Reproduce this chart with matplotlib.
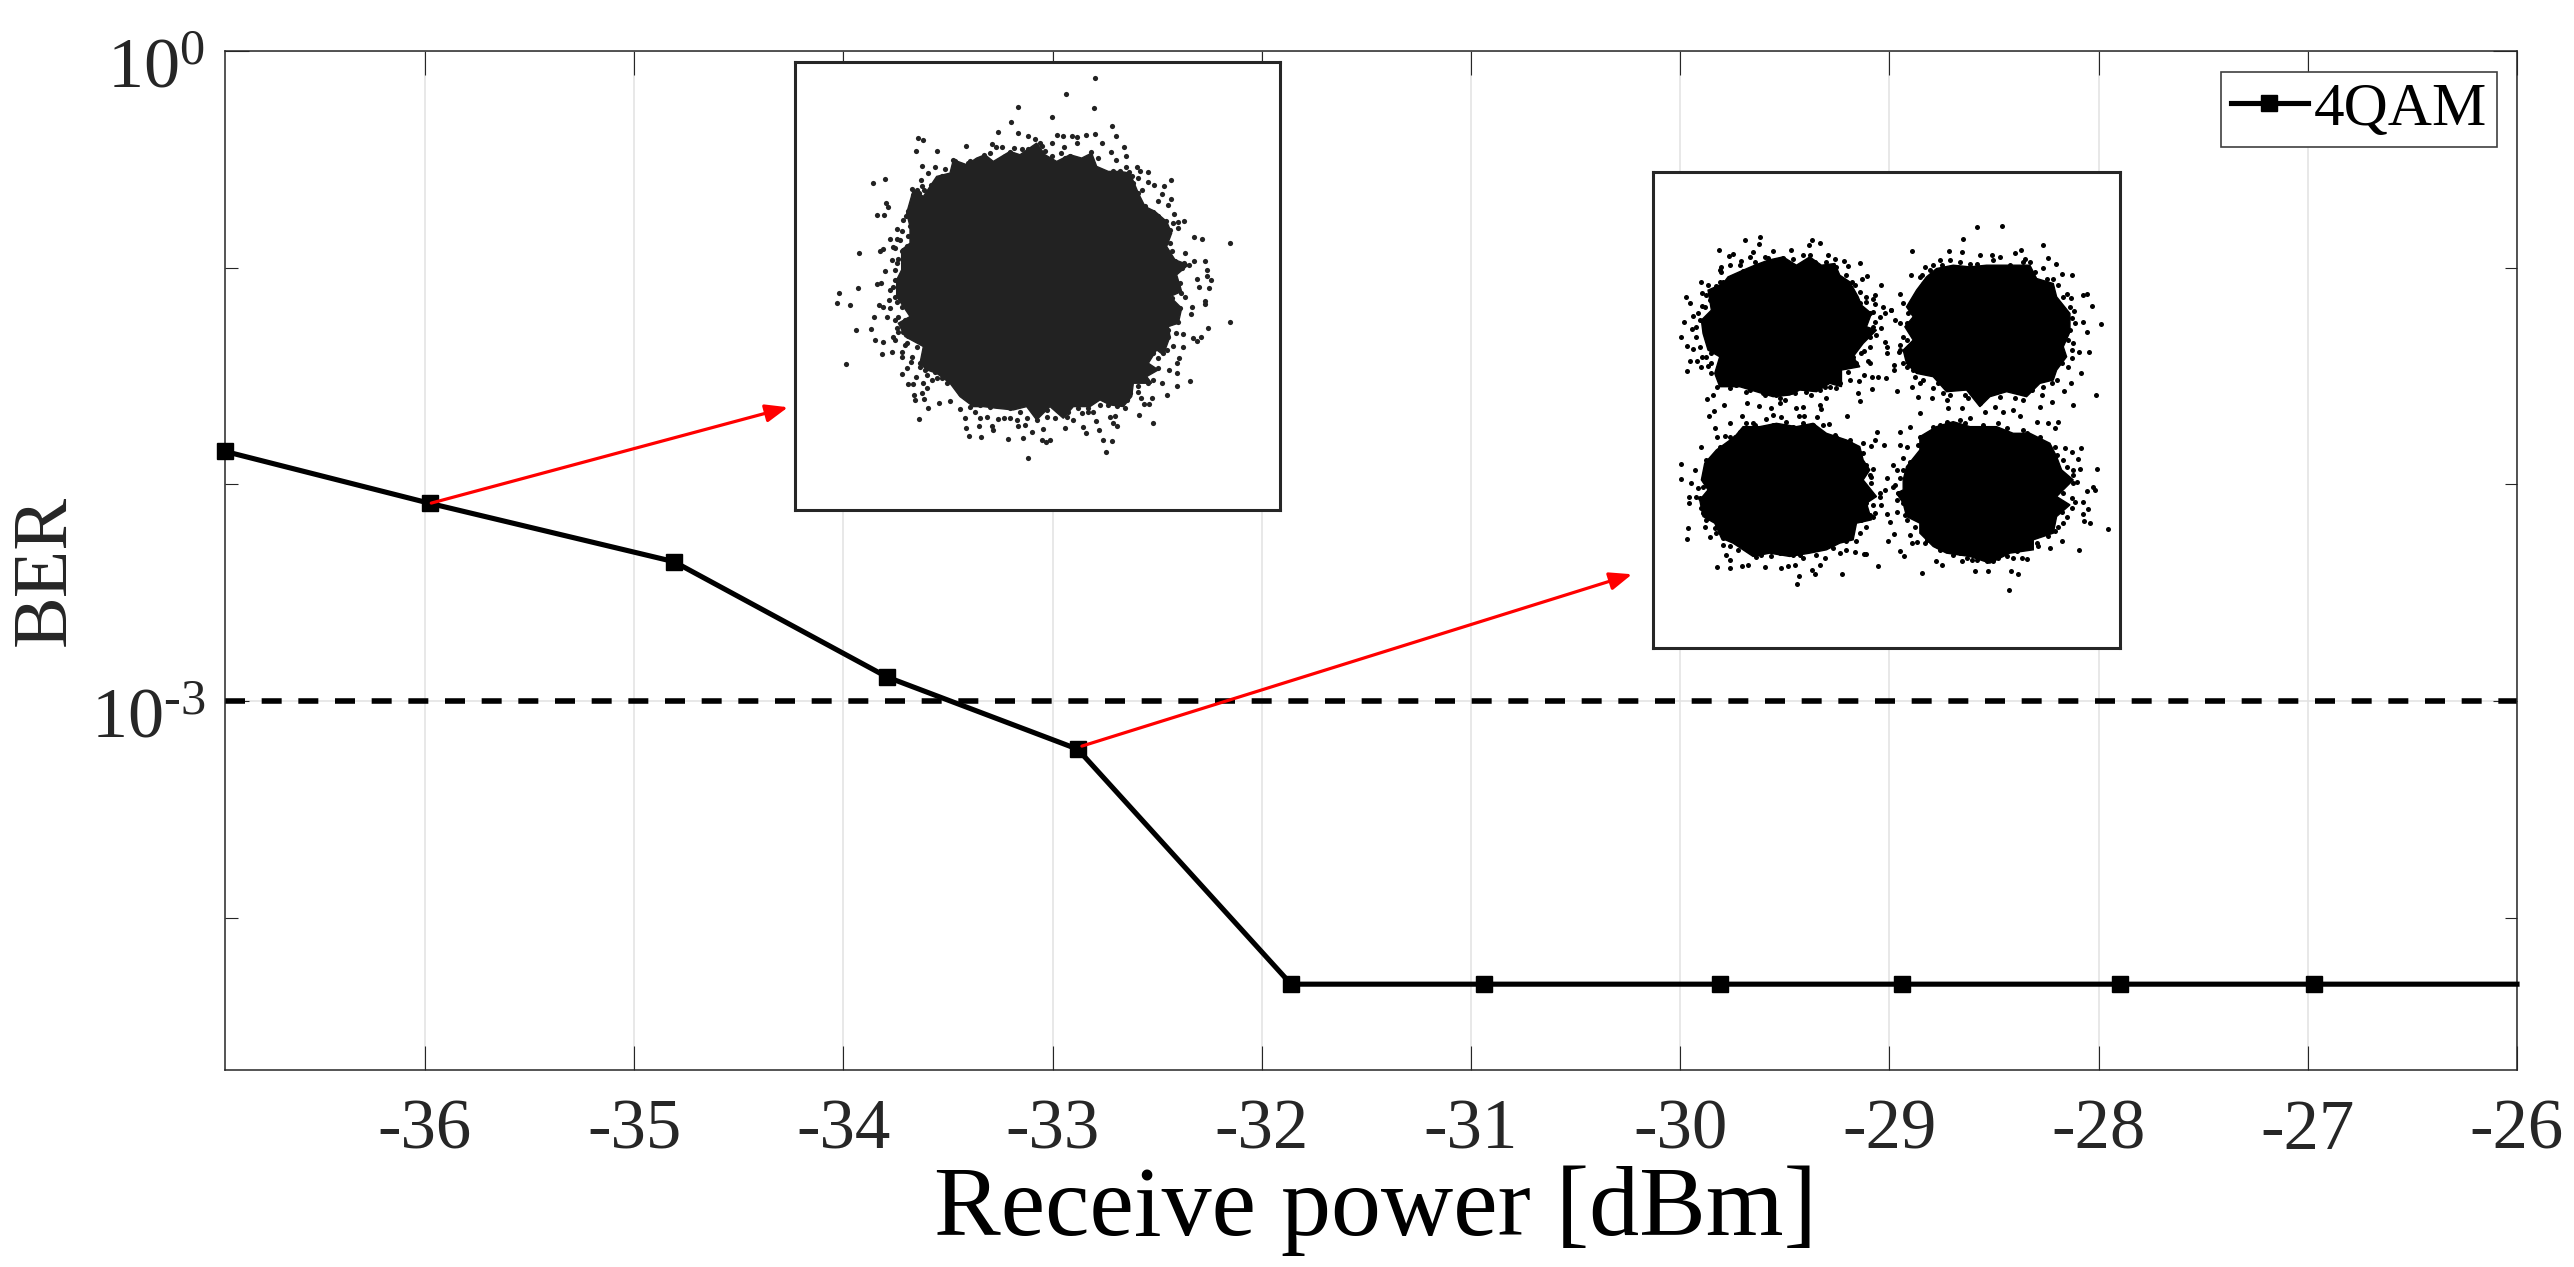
import matplotlib
matplotlib.use("Agg")
import matplotlib.pyplot as plt
import numpy as np
from matplotlib.patches import Polygon
from matplotlib.ticker import NullFormatter
from matplotlib.transforms import ScaledTranslation

plt.rcParams["font.family"] = ["Liberation Serif", "DejaVu Serif"]
plt.rcParams["mathtext.fontset"] = "custom"
plt.rcParams["mathtext.rm"] = "Liberation Serif"
plt.rcParams["mathtext.it"] = "Liberation Serif"

FIG_W = 2574
FIG_H = 1267
DARK = "#262626"

################################## Values ########################################################

power_dbm = [-36.956, -35.975, -34.81, -33.79, -32.88, -31.86, -30.94, -29.81, -28.94, -27.90, -26.97, -26.0]
ber = [1.42e-2, 8.17e-3, 4.40e-3, 1.29e-3, 6.0e-4, 4.94e-5, 4.94e-5, 4.94e-5, 4.94e-5, 4.94e-5, 4.94e-5, 4.94e-5]
marker_count = 11
ber_threshold = 1e-3

x_ticks = [-36, -35, -34, -33, -32, -31, -30, -29, -28, -27, -26]
y_major_ticks = [1, 1e-3]
y_major_labels = [r"$\mathrm{10^{0}}$", r"$\mathrm{10^{\text{-}3}}$"]
y_minor_ticks = [1e-1, 1e-2, 1e-4]

# arrows: (tail x, tail BER), (head x, head BER)
arrow_low = ((-35.97, 8.2e-3), (-34.265, 2.27e-2))
arrow_high = ((-32.86, 6.2e-4), (-30.23, 3.85e-3))

# Constellations, in the raw units. The points are too dense to
# read one by one in the middle, so that part is a filled outline and only the fringe is dots.
noise_body = [(400,480),(430,500),(470,440),(510,430),(520,390),(560,405),(590,385),(615,375),(640,395),(690,365),(720,375),
              (770,340),(795,375),(830,395),(870,375),(905,385),(935,370),(950,410),(985,425),(1020,425),(1050,430),(1075,490),
              (1095,530),(1125,545),(1160,575),(1175,610),(1160,650),(1185,690),(1225,705),(1190,735),(1205,785),(1170,800),
              (1205,835),(1195,880),(1165,890),(1170,920),(1150,975),(1130,960),(1105,1000),(1135,1020),(1100,1040),(1115,1060),
              (1060,1060),(1055,1100),(1030,1130),(990,1125),(960,1110),(930,1130),(880,1130),(850,1165),(810,1130),(770,1170),
              (740,1130),(700,1140),(650,1135),(610,1130),(580,1130),(540,1100),(510,1060),(470,1030),(440,1020),(420,1000),
              (430,950),(375,920),(355,880),(390,860),(350,800),(350,750),(365,720),(365,660),(390,640),(390,590),(380,550)]
noise_fringe = [(944,144),(859,194),(941,236),(714,233),(815,261),(694,276),(997,288),(655,306),(714,311),(743,320),
                (766,328),(832,317),(849,319),(875,320),(891,323),(918,315),(944,314),(1009,319),(414,324),(430,332),
                (558,350),(472,364),(409,364),(635,344),(648,352),(666,352),(702,355),(725,358),(745,358),(780,340),
                (817,341),(852,352),(892,340),(967,340),(1031,351),(994,367),(1037,380),(1007,391),(934,368),(900,390),
                (870,380),(844,371),(770,365),(690,368),(630,370),(612,377),(590,392),(565,400),(520,390),(540,410),
                (465,412),(425,410),(495,417),(445,430),(422,452),(452,465),(472,458),(280,461),(315,449),(397,479),
                (417,490),(433,480),(490,475),(510,438),(1070,411),(1105,427),(1037,412),(1081,425),(1048,428),(1105,457),
                (1122,467),(1152,470),(1172,451),(1145,494),(1134,514),(1174,508),(1165,525),(1183,552),(1120,548),(1095,530),
                (1075,490),(1060,460),(1212,574),(1195,577),(1180,580),(1158,575),(1193,595),(1242,623),(1265,629),(1351,639),
                (1215,671),(1177,663),(1243,693),(1276,694),(1280,721),(1211,701),(1228,707),(1190,718),(1280,740),(1292,752),
                (1250,748),(1288,775),(1257,771),(1200,760),(1203,788),(1274,812),(1275,823),(1236,831),(1232,852),(1200,835),
                (1195,875),(1350,876),(1285,893),(1189,908),(1208,913),(1239,924),(1264,920),(1252,933),(1180,947),(1209,952),
                (1165,920),(1150,968),(1198,984),(1190,999),(1168,1021),(1190,1030),(1230,1054),(1190,1068),(1160,1096),(1145,1058),
                (1120,1050),(1135,1015),(1100,1008),(1088,1020),(1080,1040),(1075,1067),(1115,1105),(1082,1105),(1091,1123),(1108,1123),
                (1076,1156),(1120,1178),(1035,1135),(1010,1128),(985,1125),(1005,1158),(990,1160),(1000,1180),(1010,1188),(948,1174),
                (957,1200),(910,1192),(918,1208),(854,1194),(969,1229),(997,1233),(978,1267),(810,1231),(797,1235),(785,1229),
                (788,1197),(756,1207),(730,1223),(744,1285),(683,1227),(603,1222),(566,1219),(557,1194),(598,1189),(640,1200),
                (635,1188),(555,1163),(600,1165),(620,1160),(655,1166),(672,1165),(690,1165),(710,1170),(715,1188),(735,1185),
                (740,1165),(770,1170),(800,1160),(825,1165),(860,1160),(880,1170),(905,1150),(925,1147),(940,1145),(444,1133),
                (417,1167),(478,1118),(510,1113),(433,1108),(405,1110),(403,1095),(540,1138),(570,1130),(585,1147),(425,1090),
                (440,1075),(384,1062),(398,1062),(408,1040),(430,1060),(455,1050),(485,1045),(367,1032),(380,1015),(392,995),
                (420,1010),(435,1020),(465,1025),(199,1003),(307,972),(335,965),(367,965),(365,980),(410,950),(345,930),
                (340,922),(310,936),(284,931),(382,940),(229,900),(272,896),(350,895),(370,905),(385,918),(322,861),
                (281,860),(355,860),(375,870),(211,825),(171,820),(177,789),(233,774),(297,825),(310,830),(330,835),
                (327,810),(350,815),(365,830),(290,764),(303,760),(340,770),(350,750),(370,730),(365,790),(237,670),
                (300,665),(310,658),(338,652),(335,690),(353,687),(365,665),(380,650),(315,725),(345,722),(330,627),
                (350,628),(360,630),(395,640),(352,597),(365,603),(390,590),(405,615),(420,600),(370,570),(385,550),
                (400,565),(430,560),(450,537),(290,555),(312,555),(323,532),(317,520),(405,520),(420,510)]
noise_ring = [(410,480),(400,495),(425,505),(415,520),(385,545),(378,560),(395,575),(410,585),(425,470),(440,510),(485,440),(500,450),
              (525,395),(545,405),(570,395),(585,400),(605,385),(625,395),(655,395),(675,380),(705,380),(735,375),(760,375),(785,350),
              (795,365),(815,380),(855,385),(885,395),(925,385),(955,385),(1000,425),(1020,425),(1055,440),(1075,445),(1085,480),(1110,545),
              (1135,560),(1150,585),(1170,600),(1160,620),(1170,640),(1185,695),(1205,715),(1175,745),(1195,770),(1215,800),(1175,805),
              (1190,850),(1170,880),(1165,900),(1150,940),(1160,960),(1135,985),(1120,970),(1105,1060),(1075,1085),(1050,1090),(1040,1110),
              (1000,1105),(960,1125),(925,1135),(895,1135),(865,1145),(840,1140),(800,1140),(775,1150),(750,1125),(720,1145),(690,1135),
              (655,1125),(630,1130),(600,1125),(565,1105),(540,1090),(500,1060),(470,1045),(440,1035),(420,1000),(395,980),(375,945),
              (355,905),(345,870),(345,800),(330,780),(345,750),(350,700),(370,660),(345,655),(385,620)]

qam_body_tl = [(215,480),(205,420),(250,400),(265,380),(310,360),(345,345),(385,330),(430,320),(470,345),(510,320),(545,345),
               (585,340),(600,375),(630,395),(655,440),(665,465),(695,490),(680,530),(710,540),(670,580),(640,620),(660,650),
               (605,660),(605,710),(570,700),(530,725),(480,720),(450,735),(400,740),(350,725),(300,710),(240,710),(225,670),
               (240,620),(205,600),(190,550),(185,510)]
qam_body_tr = [(800,470),(830,420),(860,380),(890,355),(940,345),(990,350),(1040,345),(1090,345),(1130,345),(1170,345),(1190,385),
               (1240,400),(1250,440),(1290,490),(1290,545),(1270,590),(1280,620),(1250,660),(1240,690),(1200,700),(1160,740),
               (1100,725),(1050,740),(1020,770),(980,720),(920,725),(880,680),(830,670),(800,640),(790,600),(820,570),(795,530),(820,500)]
qam_body_bl = [(195,940),(230,900),(285,860),(310,830),(360,830),(410,820),(470,830),(520,820),(560,850),(620,870),(660,890),
               (670,930),(690,960),(670,990),(710,1040),(680,1060),(695,1110),(650,1120),(640,1170),(600,1180),(560,1200),
               (510,1210),(450,1220),(390,1210),(340,1220),(280,1180),(245,1165),(225,1120),(190,1100),(180,1050),(205,1020),(185,990)]
qam_body_br = [(790,990),(800,950),(840,900),(840,860),(890,830),(940,815),(990,830),(1070,830),(1120,850),(1170,850),(1230,880),
               (1250,920),(1265,960),(1300,990),(1250,1040),(1290,1065),(1250,1100),(1240,1150),(1180,1170),(1180,1200),(1110,1210),
               (1050,1240),(990,1220),(920,1210),(880,1190),(840,1150),(840,1120),(800,1100),(790,1060),(770,1030),(790,1020)]
qam_fringe_tl = [(238,299),(315,270),(361,261),(358,281),(516,268),(507,284),(542,279),(400,301),(455,299),(340,306),(268,317),
                 (281,312),(303,333),(330,320),(385,322),(430,322),(490,315),(510,313),(565,313),(587,325),(612,332),(660,338),
                 (626,346),(245,350),(270,345),(245,365),(310,362),(183,395),(204,405),(230,407),(186,428),(139,441),(152,460),
                 (187,467),(210,450),(250,395),(270,385),(683,376),(668,385),(724,403),(636,395),(707,435),(700,447),(680,441),
                 (705,463),(731,472),(735,490),(754,480),(660,460),(690,490),(720,500),(700,530),(725,535),(735,575),(710,555),
                 (742,590),(741,608),(690,590),(672,602),(640,620),(685,632),(690,640),(714,681),(738,685),(697,682),(672,675),
                 (658,692),(630,690),(697,717),(655,728),(660,752),(600,700),(570,710),(560,745),(540,765),(543,778),(533,801),
                 (621,798),(492,798),(478,798),(490,770),(470,775),(455,725),(435,750),(420,760),(395,775),(358,768),(323,760),
                 (252,764),(220,735),(202,748),(222,783),(209,797),(307,799),(378,806),(400,795),(425,800),(133,515),(160,497),
                 (180,510),(125,561),(157,537),(142,588),(160,597),(170,560),(150,632),(143,663),(172,634),(186,620),(185,652),
                 (206,647),(215,608),(240,640),(232,712),(260,700),(290,705),(330,720),(370,730),(410,735),(500,725),(540,720)]
qam_fringe_tr = [(1010,231),(1087,228),(970,265),(1210,283),(815,303),(927,302),(965,305),(1020,314),(1056,315),(1080,320),
                 (1124,307),(1142,298),(1223,322),(901,328),(930,328),(990,342),(1155,325),(1170,335),(1249,340),(855,350),
                 (880,345),(1210,354),(812,373),(1295,375),(1265,372),(840,380),(850,400),(1240,385),(1230,410),(1340,432),
                 (1280,432),(1330,435),(1292,445),(1357,469),(780,432),(790,460),(810,470),(753,480),(765,510),(780,520),
                 (1303,483),(1383,522),(1330,515),(1295,505),(1340,545),(1290,540),(1300,580),(800,570),(780,585),(776,607),
                 (800,610),(820,620),(763,645),(761,660),(800,650),(825,680),(840,700),(816,710),(771,723),(835,740),
                 (840,790),(875,745),(880,715),(910,730),(920,750),(925,775),(965,773),(985,745),(1020,760),(1035,785),
                 (1065,770),(1090,785),(1118,780),(1140,797),(1150,750),(1200,770),(1235,755),(1298,766),(1367,736),(1273,724),
                 (1292,698),(1322,670),(1348,605),(1318,606),(1296,625),(1285,650),(1250,690),(1205,735),(1175,690)]
qam_fringe_bl = [(125,943),(124,986),(185,890),(225,835),(232,862),(255,857),(270,820),(285,860),(320,820),(345,825),(460,830),
                 (520,825),(550,825),(568,822),(585,855),(630,870),(670,878),(713,846),(707,870),(734,886),(695,888),(660,910),
                 (675,950),(700,958),(690,975),(695,1000),(650,930),(165,960),(155,998),(175,1013),(148,1040),(147,1060),(180,1045),
                 (190,1090),(205,1105),(146,1135),(141,1167),(196,1130),(210,1162),(225,1135),(250,1165),(250,1185),(260,1215),
                 (272,1232),(233,1253),(271,1255),(306,1250),(325,1245),(375,1253),(424,1254),(445,1248),(465,1245),(478,1280),
                 (472,1302),(518,1262),(525,1272),(540,1245),(608,1272),(715,1250),(680,1213),(672,1213),(645,1206),(620,1200),
                 (600,1210),(555,1225),(490,1225),(460,1215),(395,1220),(350,1222),(320,1195),(295,1202),(650,1175),(630,1160),
                 (680,1130),(665,1110),(690,1095),(705,1090),(725,1065),(700,1065),(680,1060),(720,1040),(690,1030)]
qam_fringe_br = [(810,832),(780,845),(900,825),(920,815),(960,810),(990,803),(1075,820),(1190,817),(1225,818),(1255,817),(1245,835),
                 (1160,850),(1275,893),(1323,895),(1295,905),(1313,927),(1280,950),(1250,915),(1372,957),(1320,958),(1300,975),
                 (1340,1022),(1360,1012),(1365,1020),(1300,1000),(1305,1055),(1330,1057),(1345,1077),(1328,1092),(1333,1112),
                 (1349,1118),(1405,1136),(1295,1075),(1280,1100),(1270,1120),(1245,1145),(1267,1175),(1316,1200),(1230,1195),
                 (1190,1180),(1160,1227),(1145,1225),(1120,1225),(1100,1220),(1133,1273),(1112,1265),(1107,1320),(1044,1263),
                 (1005,1265),(1060,1235),(1040,1235),(1010,1232),(995,1232),(980,1225),(965,1233),(940,1217),(907,1245),(889,1235),
                 (845,1270),(900,1190),(855,1180),(830,1178),(815,1180),(792,1220),(780,1203),(745,1173),(763,1153),(810,1155),
                 (750,1115),(740,1093),(770,1085),(795,1095),(790,1060),(775,1030),(765,1005),(740,985),(770,960),(790,925),
                 (760,945),(780,885),(800,890),(840,860),(850,870),(880,860),(735,1020)]
qam_ring_tl = [(240,360),(300,345),(345,335),(375,320),(420,335),(460,325),(525,335),(560,335),(590,350),(620,375),(645,405),(660,425),
               (680,455),(700,485),(705,515),(690,560),(665,610),(650,640),(625,665),(590,680),(590,715),(555,710),(515,735),(465,730),
               (420,745),(375,735),(320,725),(270,715),(245,690),(215,670),(215,640),(200,620),(180,590),(170,530),(175,490),(195,470),
               (200,435),(225,420),(240,395)]
qam_ring_tr = [(845,375),(870,360),(905,345),(960,335),(1010,340),(1060,330),(1110,345),(1150,335),(1185,365),(1220,385),(1255,405),
               (1270,440),(1290,470),(1305,520),(1285,570),(1295,600),(1265,640),(1235,700),(1210,710),(1175,720),(1125,745),(1080,740),
               (1020,750),(975,735),(930,735),(895,700),(850,690),(820,660),(790,640),(780,600),(790,560),(800,520),(805,490),(820,450),(835,430)]
qam_ring_bl = [(200,930),(240,890),(270,860),(300,845),(340,820),(400,825),(440,815),(490,820),(540,845),(590,860),(630,880),(670,910),
               (680,945),(695,980),(720,1030),(700,1100),(675,1100),(660,1150),(620,1175),(580,1195),(530,1215),(480,1215),(420,1210),
               (365,1215),(310,1190),(270,1190),(230,1150),(200,1110),(185,1075),(170,1040),(190,1010),(195,970)]
qam_ring_br = [(780,985),(790,960),(810,935),(835,885),(880,830),(920,820),(975,820),(1030,825),(1100,835),(1150,840),(1200,860),(1245,890),
               (1270,930),(1300,960),(1310,995),(1270,1030),(1295,1045),(1265,1085),(1255,1130),(1225,1160),(1195,1190),(1130,1205),(1075,1225),
               (1030,1215),(960,1210),(900,1200),(860,1170),(825,1130),(800,1110),(770,1050),(760,1010)]


def px_rect(left, top, right, bottom):
    return [left / FIG_W, 1 - bottom / FIG_H, (right - left) / FIG_W, (bottom - top) / FIG_H]


def plot_main(fig):
    ax = fig.add_axes(px_rect(225, 51, 2517, 1069.5))
    ax.set_yscale("log")

    ax.grid(True, which="major", color="#e2e2e2", lw=1.1)
    ax.set_axisbelow(True)
    ax.axhline(ber_threshold, color="black", lw=4, dashes=(3.6, 3.0), dash_capstyle="butt", zorder=2)
    ax.plot(
        power_dbm,
        ber,
        color="black",
        lw=3.7,
        marker="s",
        ms=12,
        markevery=list(range(marker_count)),
        label="4QAM",
        zorder=3,
        clip_on=False,
    )

    ax.set_xlim(-36.956, -26)
    ax.set_ylim(10**-4.70, 1)
    ax.set_xticks(x_ticks)
    ax.set_xticklabels([str(t) for t in x_ticks])
    ax.set_yticks(y_major_ticks)
    ax.set_yticklabels(y_major_labels)
    ax.set_yticks(y_minor_ticks, minor=True)
    ax.yaxis.set_minor_formatter(NullFormatter())
    ax.tick_params(axis="x", which="major", direction="in", length=17, width=0.8, top=True,
                   labelsize=51, pad=21, colors=DARK)
    ax.tick_params(axis="y", which="major", direction="in", length=17, width=0.8, right=True,
                   labelsize=52, pad=14, colors=DARK)
    ax.tick_params(axis="y", which="minor", direction="in", length=9, width=0.8, right=True, colors=DARK)
    # the exponent labels sit lower than the tick, baseline about 36 px under it
    for label in ax.get_yticklabels():
        label.set_verticalalignment("baseline")
        label.set_transform(label.get_transform() + ScaledTranslation(0, -0.36, fig.dpi_scale_trans))
    for spine in ax.spines.values():
        spine.set_color(DARK)
        spine.set_linewidth(1.1)

    for tail, head in (arrow_low, arrow_high):
        ax.annotate(
            "",
            xy=head,
            xytext=tail,
            arrowprops=dict(arrowstyle="-|>,head_length=0.75,head_width=0.3", color="#ff0000", lw=2.3,
                            shrinkA=0, shrinkB=0, mutation_scale=18),
            zorder=4,
        )

    ax.legend(
        loc="upper right",
        bbox_to_anchor=(1 - 20 / 2292, 1 - 21 / 1018.5),
        borderaxespad=0,
        fontsize=44,
        handlelength=1.26,
        handletextpad=0.1,
        borderpad=0.16,
        fancybox=False,
        framealpha=1,
        edgecolor="#404040",
    ).get_frame().set_linewidth(1.2)

    fig.text(46 / FIG_W, 1 - 570 / FIG_H, "BER", rotation=90, fontsize=56, color=DARK, ha="center", va="center")
    fig.text(1375 / FIG_W, 1 - 1235 / FIG_H, "Receive power [dBm]", fontsize=72, color="black",
             ha="center", va="baseline")


def plot_constellation(fig, rect, xlim, ylim, bodies, fringes, color, dot):
    ax = fig.add_axes(rect, zorder=5)
    for body in bodies:
        ax.add_patch(Polygon(body, closed=True, facecolor=color, edgecolor=color, lw=1))
    for fringe in fringes:
        i_vals, q_vals = np.array(fringe).T
        ax.scatter(i_vals, q_vals, s=dot, color=color, linewidths=0)
    ax.set_xlim(*xlim)
    ax.set_ylim(*ylim)
    ax.set_xticks([])
    ax.set_yticks([])
    for spine in ax.spines.values():
        spine.set_color(DARK)
        spine.set_linewidth(2.2)


def main():
    fig = plt.figure(figsize=(FIG_W / 100, FIG_H / 100), dpi=100)
    plot_main(fig)
    plot_constellation(fig, px_rect(795, 62, 1280, 510), (45, 1500), (1440, 97),
                       [noise_body], [noise_fringe, noise_ring], "#222222", 14)
    plot_constellation(fig, px_rect(1653, 172, 2120, 648), (40, 1440), (1495, 65),
                       [qam_body_tl, qam_body_tr, qam_body_bl, qam_body_br],
                       [qam_fringe_tl, qam_fringe_tr, qam_fringe_bl, qam_fringe_br,
                        qam_ring_tl, qam_ring_tr, qam_ring_bl, qam_ring_br], "black", 13)
    fig.savefig("out.png", dpi=100)
    plt.close(fig)


if __name__ == "__main__":
    main()
